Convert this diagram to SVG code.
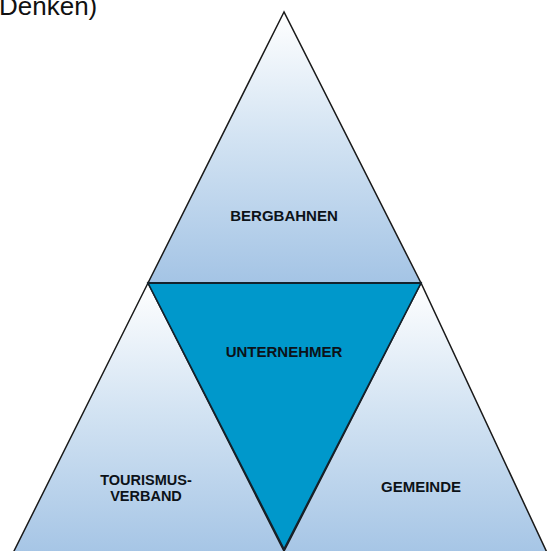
<svg xmlns="http://www.w3.org/2000/svg" width="547" height="551" viewBox="0 0 547 551">
  <style>
    .tri { fill: url(#lightGrad); stroke: #1a1a1a; stroke-width: 1.5; stroke-linejoin: miter; }
    .mid { fill: #0098cb; stroke: #14222c; stroke-width: 1.6; stroke-linejoin: miter; }
    .lbl { font-family: "Liberation Sans", Arial, sans-serif; font-weight: bold; font-size: 15px; fill: #0c1218; text-anchor: middle; }
    .sm { font-size: 14.5px; }
    .title { font-family: "Liberation Sans", Arial, sans-serif; font-size: 26px; fill: #111; }
  </style>
  <defs>
    <linearGradient id="lightGrad" x1="0" y1="0" x2="0" y2="1">
      <stop offset="0" stop-color="#ffffff"/>
      <stop offset="0.45" stop-color="#d4e4f3"/>
      <stop offset="1" stop-color="#a4c4e5"/>
    </linearGradient>
  </defs>
  <rect width="547" height="551" fill="#ffffff"/>
  <text class="title" x="-1" y="15">Denken)</text>
  <g id="tourismusverband">
    <polygon class="tri" points="148,283 10,559 288,559"/>
    <text class="lbl sm" x="146" y="485">TOURISMUS-</text>
    <text class="lbl sm" x="146" y="500.5">VERBAND</text>
  </g>
  <g id="gemeinde">
    <polygon class="tri" points="421,283 280,559 550,559"/>
    <text class="lbl" x="421" y="492">GEMEINDE</text>
  </g>
  <g id="bergbahnen">
    <polygon class="tri" points="284,12 148,283 421,283"/>
    <text class="lbl" x="284" y="221">BERGBAHNEN</text>
  </g>
  <g id="unternehmer">
    <polygon class="mid" points="148,283 421,283 284,549"/>
    <line x1="148" y1="283" x2="421" y2="283" stroke="#14222c" stroke-width="2.2"/>
    <text class="lbl" x="284" y="357">UNTERNEHMER</text>
  </g>
</svg>
